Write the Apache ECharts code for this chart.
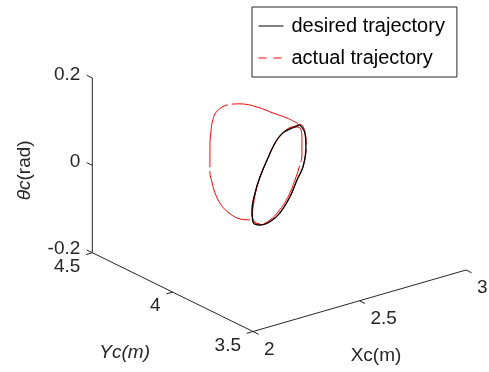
<!DOCTYPE html>
<html>
<head>
<meta charset="utf-8">
<script src="https://cdn.jsdelivr.net/npm/echarts@6/dist/echarts.min.js"></script>
<style>
  html, body { margin: 0; padding: 0; background: #fff; }
  #chart { width: 489px; height: 372px; }
</style>
</head>
<body>
<div id="chart"></div>
<script>
// 期望轨迹 (Xc, Yc, θc)
const desiredX = [2.447, 2.470, 2.475, 2.461, 2.433, 2.400, 2.353, 2.306, 2.259, 2.226, 2.222, 2.236, 2.259, 2.292, 2.330, 2.367, 2.409];
const desiredY = [3.80, 3.80, 3.80, 3.80, 3.80, 3.80, 3.80, 3.80, 3.80, 3.80, 3.80, 3.80, 3.80, 3.80, 3.80, 3.80, 3.80];
const desiredTheta = [0.156, 0.134, 0.102, 0.058, 0.032, -0.002, -0.032, -0.046, -0.047, -0.035, -0.007, 0.030, 0.063, 0.097, 0.131, 0.149, 0.154];

// 实际轨迹
const actualX = [2.438, 2.416, 2.381, 2.336, 2.286, 2.245, 2.208, 2.189, 2.180, 2.175, 2.175, 2.175, 2.177, 2.176, 2.182, 2.194, 2.215, 2.227,
  2.222, 2.236, 2.259, 2.292, 2.330, 2.367, 2.414, 2.447, 2.456, 2.456, 2.442, 2.423, 2.391, 2.348, 2.306, 2.264, 2.231, 2.222,
  2.237, 2.260, 2.293, 2.331, 2.368, 2.410, 2.448, 2.471, 2.476, 2.462, 2.434, 2.401, 2.354, 2.307, 2.260, 2.227];
const actualY = [3.80, 3.84, 3.88, 3.92, 3.96, 3.98, 4.00, 4.00, 4.00, 4.00, 4.00, 4.00, 3.99, 3.97, 3.94, 3.90, 3.86, 3.82,
  3.80, 3.80, 3.80, 3.80, 3.80, 3.80, 3.80, 3.80, 3.80, 3.80, 3.80, 3.80, 3.80, 3.80, 3.80, 3.80, 3.80, 3.80,
  3.80, 3.80, 3.80, 3.80, 3.80, 3.80, 3.80, 3.80, 3.80, 3.80, 3.80, 3.80, 3.80, 3.80, 3.80, 3.80];
const actualTheta = [0.160, 0.169, 0.178, 0.191, 0.198, 0.198, 0.185, 0.168, 0.144, 0.108, 0.073, 0.050, 0.029, 0.008, -0.015, -0.030, -0.038, -0.034,
  -0.014, 0.025, 0.063, 0.097, 0.131, 0.149, 0.156, 0.149, 0.120, 0.086, 0.058, 0.033, -0.001, -0.027, -0.042, -0.045, -0.034, -0.007,
  0.031, 0.064, 0.098, 0.132, 0.150, 0.155, 0.157, 0.135, 0.103, 0.059, 0.033, -0.001, -0.031, -0.045, -0.046, -0.034];

// 坐标轴刻度
const xTicks = [2, 2.5, 3];
const yTicks = [3.5, 4, 4.5];
const zTicks = [-0.2, 0, 0.2];

// 视角: 原点 (Xmin, Ymin, θmin) 的位置, 以及每个单位的方向向量
const view = {
  origin: [253, 331.5],
  ex: [213, -61.5],
  ey: [-160.7, -78.8],
  ez: [0, -436.7]
};

// 3D 投影到平面
function project(x, y, z) {
  const dx = x - xTicks[0];
  const dy = y - yTicks[0];
  const dz = z - zTicks[0];
  return [
    view.origin[0] + view.ex[0] * dx + view.ey[0] * dy + view.ez[0] * dz,
    view.origin[1] + view.ex[1] * dx + view.ey[1] * dy + view.ez[1] * dz
  ];
}

function toPoints(xs, ys, zs, closed) {
  const pts = xs.map((x, i) => project(x, ys[i], zs[i]));
  if (closed) pts.push(pts[0]);
  return pts;
}

const axisColor = '#262626';
const font = '"Liberation Sans", Arial, sans-serif';

// 坐标轴、刻度和标签
function renderAxes(params, api) {
  const pt = (x, y, z) => api.coord(project(x, y, z));
  const children = [];
  const seg = (a, b) => children.push({
    type: 'line',
    shape: { x1: a[0], y1: a[1], x2: b[0], y2: b[1] },
    style: { stroke: axisColor, lineWidth: 1 }
  });
  const label = (p, str, align, dx, dy) => children.push({
    type: 'text',
    x: p[0] + dx,
    y: p[1] + dy,
    style: { text: str, align: align, verticalAlign: 'middle', fill: axisColor, fontSize: 19, fontFamily: font }
  });
  const x0 = xTicks[0], x1 = xTicks[xTicks.length - 1];
  const y0 = yTicks[0], y1 = yTicks[yTicks.length - 1];
  const z0 = zTicks[0], z1 = zTicks[zTicks.length - 1];

  // 轴线
  seg(pt(x0, y0, z0), pt(x1, y0, z0));
  seg(pt(x0, y0, z0), pt(x0, y1, z0));
  seg(pt(x0, y1, z0), pt(x0, y1, z1));

  // X 轴刻度
  xTicks.forEach((v) => {
    const a = pt(v, y0, z0);
    seg(a, pt(v, y0 - 0.035, z0));
    label(a, String(v), 'left', 11, 18);
  });
  // Y 轴刻度
  yTicks.forEach((v) => {
    const a = pt(x0, v, z0);
    seg(a, pt(x0 - 0.03, v, z0));
    label(a, String(v), 'right', -12, 14);
  });
  // Z 轴刻度
  zTicks.forEach((v) => {
    const a = pt(x0, y1, v);
    seg(a, pt(x0, y1 + 0.035, v));
    label(a, String(v), 'right', -12, -3.5);
  });

  // 轴名
  const xm = pt((x0 + x1) / 2, y0, z0);
  children.push({
    type: 'text', x: xm[0] + 16.5, y: xm[1] + 55,
    style: { text: 'Xc(m)', align: 'center', verticalAlign: 'middle', fill: axisColor, fontSize: 19, fontFamily: font }
  });
  const ym = pt(x0, (y0 + y1) / 2, z0);
  children.push({
    type: 'text', x: ym[0] - 48, y: ym[1] + 61,
    style: { text: 'Yc(m)', align: 'center', verticalAlign: 'middle', fill: axisColor, fontSize: 19, fontStyle: 'italic', fontFamily: font }
  });
  const zm = pt(x0, y1, (z0 + z1) / 2);
  children.push({
    type: 'text', x: zm[0] - 68, y: zm[1] + 5, rotation: Math.PI / 2,
    style: {
      text: '{i|θc}(rad)', align: 'center', verticalAlign: 'middle', fill: axisColor, fontSize: 19, fontFamily: font,
      rich: { i: { fontStyle: 'italic', fontSize: 19, fontFamily: font, fill: axisColor } }
    }
  });
  return { type: 'group', children: children };
}

const chart = echarts.init(document.getElementById('chart'), null, { renderer: 'canvas' });
chart.setOption({
  animation: false,
  backgroundColor: '#fff',
  grid: { left: 0, right: 0, top: 0, bottom: 0 },
  xAxis: { type: 'value', min: 0, max: 489, show: false },
  yAxis: { type: 'value', min: 0, max: 372, inverse: true, show: false },
  legend: {
    orient: 'vertical',
    left: 252,
    top: 7,
    padding: [9, 12, 9, 6],
    itemGap: 12,
    itemWidth: 25,
    itemHeight: 14,
    borderColor: axisColor,
    borderWidth: 1,
    borderRadius: 0,
    backgroundColor: '#fff',
    // 图例只显示线段, 隐藏圆点
    itemStyle: { opacity: 0, borderWidth: 0 },
    textStyle: { fontSize: 20, fontFamily: font, color: '#000', padding: [0, 0, 0, 3] },
    data: [
      { name: 'desired trajectory', lineStyle: { width: 1 } },
      { name: 'actual trajectory', lineStyle: { width: 1, type: [8, 7] } }
    ]
  },
  series: [
    {
      type: 'custom',
      name: 'axes',
      renderItem: renderAxes,
      data: [0],
      silent: true,
      z: 1
    },
    {
      name: 'actual trajectory',
      type: 'line',
      data: toPoints(actualX, actualY, actualTheta, false),
      symbol: 'none',
      smooth: 0.4,
      lineStyle: { color: '#ff0000', width: 1, type: [70, 4] },
      itemStyle: { color: '#ff0000' },
      z: 3
    },
    {
      name: 'desired trajectory',
      type: 'line',
      data: toPoints(desiredX, desiredY, desiredTheta, true),
      symbol: 'none',
      smooth: 0.4,
      lineStyle: { color: '#000', width: 1.3 },
      itemStyle: { color: '#000' },
      z: 4
    }
  ]
});
</script>
</body>
</html>
